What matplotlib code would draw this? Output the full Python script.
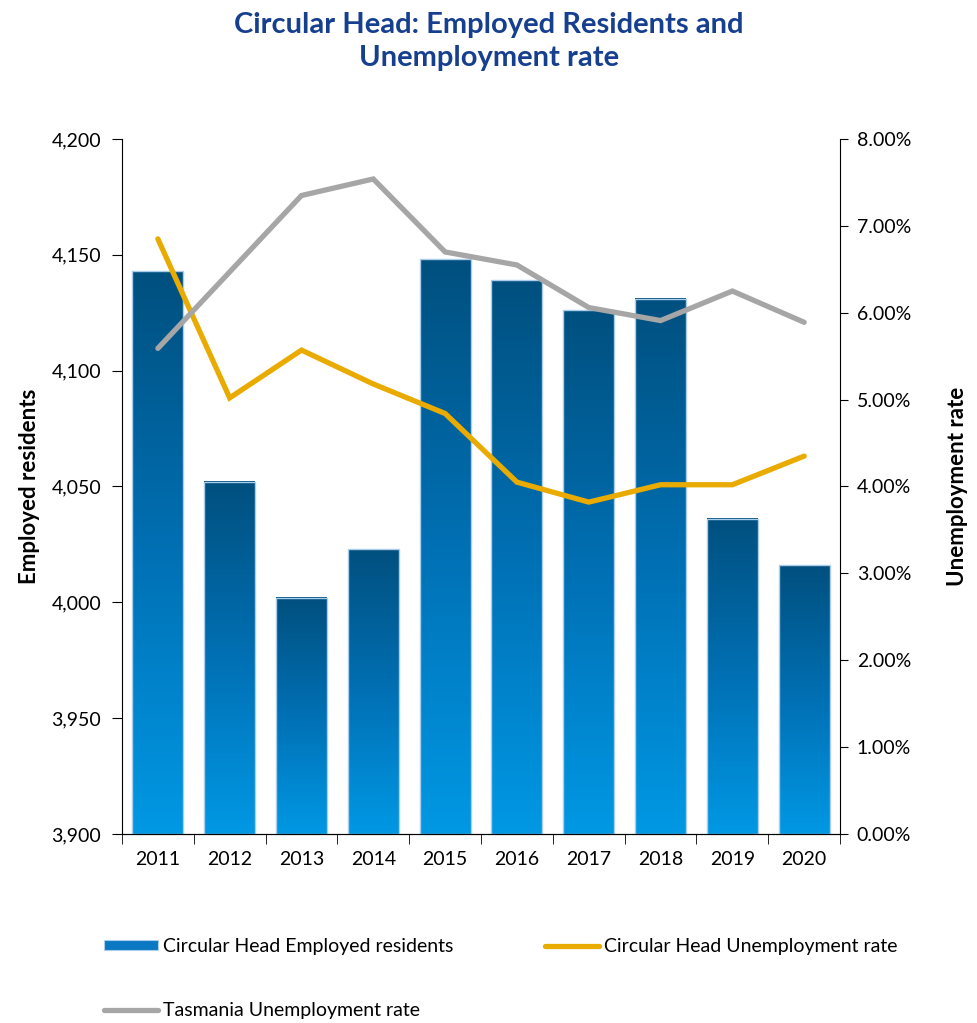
import numpy as np
import matplotlib.pyplot as plt
from matplotlib.colors import LinearSegmentedColormap
from matplotlib.patches import Patch
from matplotlib.lines import Line2D
from matplotlib.ticker import FuncFormatter, MultipleLocator

plt.rcParams['font.family'] = ['Lato', 'DejaVu Sans']

years = ["2011", "2012", "2013", "2014", "2015", "2016", "2017", "2018", "2019", "2020"]
employed = [4143, 4052, 4002, 4023, 4148, 4139, 4126, 4131, 4036, 4016]
ch_unemp = [6.85, 5.02, 5.57, 5.18, 4.84, 4.05, 3.82, 4.02, 4.02, 4.35]
tas_unemp = [5.59, 6.47, 7.35, 7.54, 6.70, 6.55, 6.06, 5.91, 6.25, 5.89]

bar_cmap = LinearSegmentedColormap.from_list("barblue", ["#0098E4", "#0070B4", "#00507F"])
orange = "#EAAB00"
grey = "#A6A6A6"
title_col = "#173F8F"

fig = plt.figure(figsize=(9.78, 10.23), dpi=100)
ax = fig.add_axes([0.1247, 0.1848, 0.7343, 0.6793])

x = np.arange(len(years))
width = 0.71
ymin, ymax = 3900, 4200
grad = np.linspace(0, 1, 256).reshape(-1, 1)

# each bar gets its own dark-top / light-bottom gradient
for xi, val in zip(x, employed):
    ax.imshow(grad, extent=[xi - width / 2, xi + width / 2, ymin, val],
              origin="lower", aspect="auto", cmap=bar_cmap, zorder=2)
    ax.bar(xi, val - ymin, bottom=ymin, width=width, facecolor="none",
           edgecolor="#A9CDEB", linewidth=1.0, zorder=3)

ax.set_xlim(-0.5, len(years) - 0.5)
ax.set_ylim(ymin, ymax)
ax.yaxis.set_major_locator(MultipleLocator(50))
ax.yaxis.set_major_formatter(FuncFormatter(lambda v, p: f"{v:,.0f}"))
ax.set_xticks(x)
ax.set_xticklabels(years)
ax.set_xticks(np.arange(-0.5, len(years)), minor=True)
ax.tick_params(axis="x", which="major", length=0, pad=12, labelsize=14)
ax.tick_params(axis="x", which="minor", length=7, direction="out")
ax.tick_params(axis="y", length=7, direction="out", labelsize=14, pad=8)
ax.spines["top"].set_visible(False)
ax.spines["right"].set_visible(False)
ax.set_ylabel("Employed residents", fontsize=16, fontweight="bold", labelpad=8)

ax2 = ax.twinx()
ax2.plot(x, ch_unemp, color=orange, linewidth=3.8, solid_capstyle="round",
         solid_joinstyle="miter", zorder=4)
ax2.plot(x, tas_unemp, color=grey, linewidth=3.8, solid_capstyle="round",
         solid_joinstyle="miter", zorder=4)
ax2.set_ylim(0, 8)
ax2.yaxis.set_major_locator(MultipleLocator(1))
ax2.yaxis.set_major_formatter(FuncFormatter(lambda v, p: f"{v:.2f}%"))
ax2.tick_params(axis="y", length=6, direction="out", labelsize=14, pad=6)
ax2.spines["top"].set_visible(False)
ax2.spines["left"].set_visible(False)
ax2.set_ylabel("Unemployment rate", fontsize=16, fontweight="bold", labelpad=26)

fig.text(0.5, 0.988, "Circular Head: Employed Residents and\nUnemployment rate",
         ha="center", va="top", fontsize=21, fontweight="bold", color=title_col,
         linespacing=1.3)

handles = [
    Patch(facecolor="#0A78C2", edgecolor="#A9CDEB", linewidth=0.8),
    Line2D([], [], color=grey, linewidth=3.8, solid_capstyle="round"),
    Line2D([], [], color=orange, linewidth=3.8, solid_capstyle="round"),
]
labels = ["Circular Head Employed residents", "Tasmania Unemployment rate",
          "Circular Head Unemployment rate"]
fig.legend(handles, labels, ncol=2, loc="upper left", bbox_to_anchor=(0.106, 0.083),
           frameon=False, fontsize=14, handlelength=2.8, handleheight=0.45,
           handletextpad=0.25, labelspacing=2.4, columnspacing=4.7,
           borderaxespad=0, borderpad=0)

fig.savefig("out.png", dpi=100)
